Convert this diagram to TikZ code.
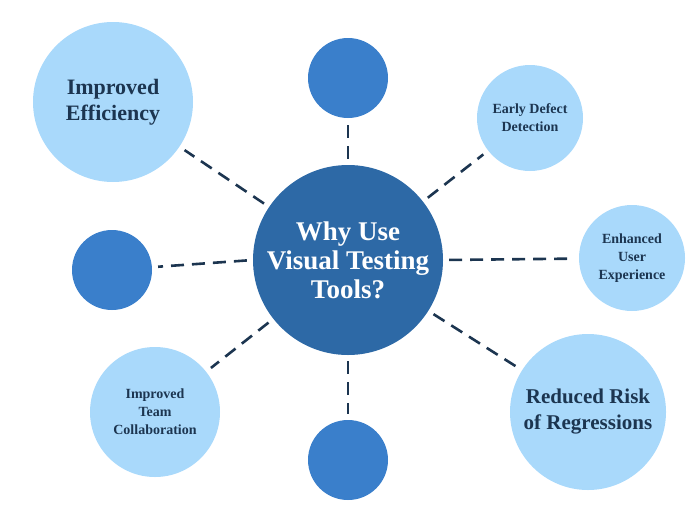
\documentclass[tikz,border=0pt]{standalone}
\usepackage{fontspec}
\setmainfont{Liberation Serif}
\usetikzlibrary{positioning}
\definecolor{hub}{HTML}{2D69A6}
\definecolor{dot}{HTML}{3A7FCB}
\definecolor{pale}{HTML}{A9D9FB}
\definecolor{navy}{HTML}{1C3550}
\begin{document}
\begin{tikzpicture}[x=1pt, y=-1pt,
  big/.style={circle, fill=pale, inner sep=0pt, align=center, font=\bfseries\color{navy}},
  small/.style={circle, fill=dot, minimum size=80pt, inner sep=0pt},
  link/.style={draw=navy, line width=2.6pt, dash pattern=on 13pt off 8pt, shorten <=6pt, shorten >=6pt}]
\useasboundingbox (0,0) rectangle (700,525);
\node[circle, fill=hub, minimum size=190pt, align=center, font=\bfseries\fontsize{27}{29}\selectfont\color{white}] (why) at (348,260) {Why Use\\Visual Testing\\Tools?};
\node[big, minimum size=160pt, font=\bfseries\fontsize{22}{26}\selectfont\color{navy}] (eff) at (113,102) {Improved\\Efficiency};
\node[small] (top) at (348,78) {};
\node[big, minimum size=106pt, font=\bfseries\fontsize{14}{18}\selectfont\color{navy}] (early) at (530,118) {Early Defect\\Detection};
\node[big, minimum size=106pt, font=\bfseries\fontsize{14}{18}\selectfont\color{navy}] (user) at (632,258) {Enhanced\\User\\Experience};
\node[big, minimum size=156pt, font=\bfseries\fontsize{21}{26}\selectfont\color{navy}] (risk) at (588,412) {Reduced Risk\\of Regressions};
\node[small] (bot) at (348,460) {};
\node[big, minimum size=130pt, font=\bfseries\fontsize{14}{18}\selectfont\color{navy}] (team) at (155,412) {Improved\\Team\\Collaboration};
\node[small] (left) at (112,270) {};
% spokes
\draw[link] (why) -- (eff);
\draw[link] (why) -- (top);
\draw[link] (why) -- (early);
\draw[link] (why.east) -- (user);
\draw[link] (why) -- (risk);
\draw[link] (why) -- (bot);
\draw[link] (why) -- (team);
\draw[link] (why.west) -- (left);
\end{tikzpicture}
\end{document}
